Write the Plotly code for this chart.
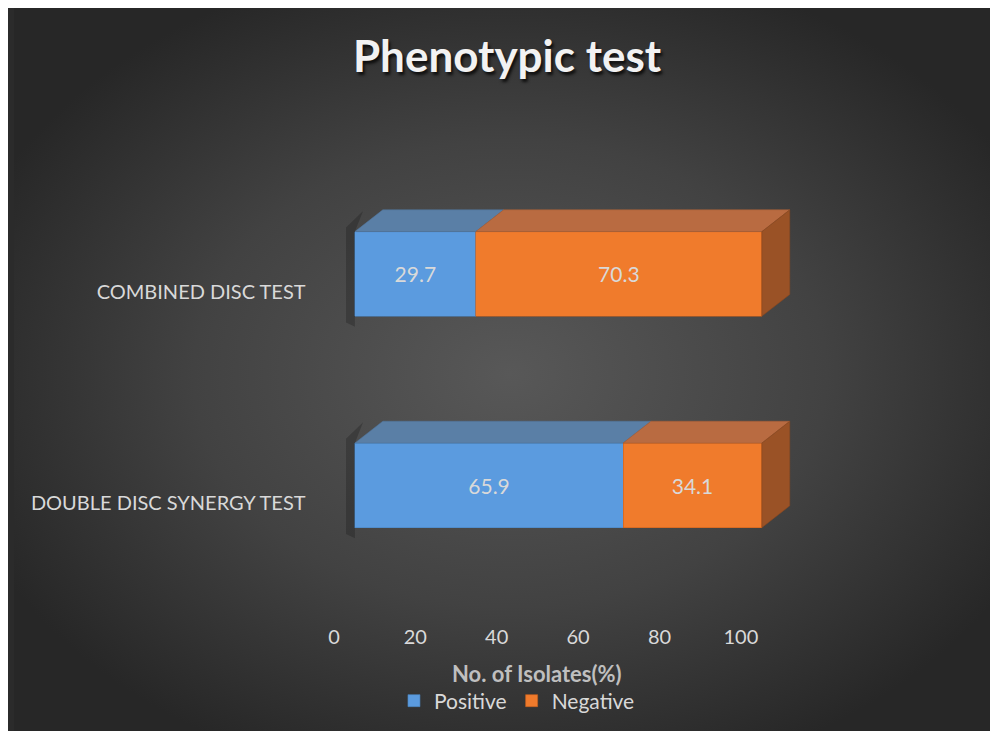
import base64
import plotly.graph_objects as go

# ---------------- data ----------------
categories = ["DOUBLE DISC SYNERGY TEST", "COMBINED DISC TEST"]
positive = [65.9, 29.7]
negative = [34.1, 70.3]
x_ticks = [0, 20, 40, 60, 80, 100]
series_names = ["Positive", "Negative"]

# ---------------- style ----------------
FONT = "Lato"
BLUE_FRONT = "#5b9bdf"
ORANGE_FRONT = "#f07b2c"
BLUE_TOP = "#5a7fa6"
ORANGE_TOP = "#b96b41"
ORANGE_SIDE = "#9a5226"
TEXT = "#d9d9d9"

BAR_W = 0.4          # bar thickness in category units
DEPTH_X = 6.85       # 3-D depth offset along x (data units)
DEPTH_Y = 0.103      # 3-D depth offset along y (category units)

ypos = list(range(len(categories)))

fig = go.Figure()

# front faces (real bars)
fig.add_trace(go.Bar(
    y=ypos, x=positive, orientation="h", name=series_names[0], width=BAR_W,
    marker=dict(color=BLUE_FRONT, line=dict(width=0.6, color="#4a84c0")),
    text=[f"{v:.1f}" for v in positive], textposition="inside",
    insidetextanchor="middle", textfont=dict(family=FONT, size=21, color=TEXT),
    hoverinfo="skip", xaxis="x2", yaxis="y2",
))
fig.add_trace(go.Bar(
    y=ypos, x=negative, orientation="h", name=series_names[1], width=BAR_W,
    marker=dict(color=ORANGE_FRONT, line=dict(width=0.6, color="#c9611c")),
    text=[f"{v:.1f}" for v in negative], textposition="inside",
    insidetextanchor="middle", textfont=dict(family=FONT, size=21, color=TEXT),
    hoverinfo="skip", xaxis="x2", yaxis="y2",
))

# 3-D faces computed from the data
def poly_trace(xs, ys, color, line_color):
    return go.Scatter(x=xs, y=ys, mode="lines", fill="toself", fillcolor=color,
                      line=dict(color=line_color, width=0.6), hoverinfo="skip",
                      showlegend=False, xaxis="x2", yaxis="y2")

sh_x, sh_y = [], []
tb_x, tb_y = [], []
to_x, to_y = [], []
sd_x, sd_y = [], []
for i, y in enumerate(ypos):
    yt = y + BAR_W / 2
    yb = y - BAR_W / 2
    p = positive[i]
    total = positive[i] + negative[i]
    # soft shadow at the left end
    sh_x += [0, -2.2, -2.2, 2.0, 0, None]
    sh_y += [yb - 0.05, yb - 0.03, yt + 0.02, yt + DEPTH_Y * 0.95, yt, None]
    # top faces
    tb_x += [0, p, p + DEPTH_X, DEPTH_X, 0, None]
    tb_y += [yt, yt, yt + DEPTH_Y, yt + DEPTH_Y, yt, None]
    to_x += [p, total, total + DEPTH_X, p + DEPTH_X, p, None]
    to_y += [yt, yt, yt + DEPTH_Y, yt + DEPTH_Y, yt, None]
    # right side face
    sd_x += [total, total + DEPTH_X, total + DEPTH_X, total, total, None]
    sd_y += [yt, yt + DEPTH_Y, yb + DEPTH_Y, yb, yt, None]

fig.add_trace(go.Scatter(x=sh_x, y=sh_y, mode="lines", fill="toself",
                         fillcolor="rgba(0,0,0,0.2)", line=dict(width=0),
                         hoverinfo="skip", showlegend=False, xaxis="x2", yaxis="y2"))
fig.add_trace(poly_trace(tb_x, tb_y, BLUE_TOP, "#50739a"))
fig.add_trace(poly_trace(to_x, to_y, ORANGE_TOP, "#a75f38"))
fig.add_trace(poly_trace(sd_x, sd_y, ORANGE_SIDE, "#8a4820"))

# ---------------- background (radial gradient) ----------------
W, H = 998, 731
svg = f"""<svg xmlns='http://www.w3.org/2000/svg' width='{W}' height='{H}' viewBox='0 0 {W} {H}'>
<defs><radialGradient id='g' cx='50%' cy='50%' r='58%'>
<stop offset='0' stop-color='#585858'/><stop offset='0.55' stop-color='#424242'/>
<stop offset='1' stop-color='#272727'/></radialGradient></defs>
<rect width='{W}' height='{H}' fill='url(#g)'/></svg>"""
bg = "data:image/svg+xml;base64," + base64.b64encode(svg.encode()).decode()

# ---------------- layout (figure pixel coordinates) ----------------
x_lo, x_hi = -5, 115
px0, px100 = 343.0, 752.4
ppu = (px100 - px0) / 100
dom_x = [(px0 + x_lo * ppu) / W, (px0 + x_hi * ppu) / W]

y_lo, y_hi = -0.6, 1.6
py0, py1 = 477.3, 265.9
ppy = py0 - py1
bottom_px = py0 - y_lo * ppy
top_px = py1 - (y_hi - 1) * ppy
dom_y = [(H - bottom_px) / H, (H - top_px) / H]

fig.update_layout(
    width=W, height=H,
    margin=dict(l=0, r=0, t=0, b=0, pad=0),
    paper_bgcolor="#2b2b2b", plot_bgcolor="rgba(0,0,0,0)",
    barmode="stack", bargap=0.6,
    images=[dict(source=bg, xref="paper", yref="paper", x=0, y=1, sizex=1, sizey=1,
                 xanchor="left", yanchor="top", sizing="stretch", layer="below")],
    title=dict(text="<b>Phenotypic test</b>", x=0.5, xanchor="center",
               y=1 - 49 / H, yref="container", yanchor="middle",
               font=dict(family=FONT, size=44, color="#f2f2f2",
                         shadow="2px 3px 3px rgba(0,0,0,0.75)")),
    xaxis=dict(visible=False),
    yaxis=dict(visible=False),
    xaxis2=dict(domain=dom_x, range=[x_lo, x_hi], anchor="y2",
                tickvals=x_ticks, ticktext=[str(t) for t in x_ticks],
                ticklabelshift=-21, ticklabelstandoff=11,
                showgrid=False, zeroline=False, showline=False, ticks="",
                tickfont=dict(family=FONT, size=20, color=TEXT)),
    yaxis2=dict(domain=dom_y, range=[y_lo, y_hi], anchor="x2",
                tickvals=ypos, ticktext=categories,
                ticklabelshift=18, ticklabelstandoff=28,
                showgrid=False, zeroline=False, showline=False, ticks="",
                tickfont=dict(family=FONT, size=20, color=TEXT)),
    annotations=[dict(text="<b>No. of Isolates(%)</b>", xref="paper", yref="paper",
                      x=526 / W, y=1 - 665 / H, xanchor="center", yanchor="middle",
                      showarrow=False,
                      font=dict(family=FONT, size=22, color="#bfbfbf"))],
    legend=dict(orientation="h", x=506 / W, xanchor="center", y=1 - 693 / H,
                yanchor="middle", font=dict(family=FONT, size=21, color=TEXT),
                bgcolor="rgba(0,0,0,0)", itemclick=False, itemdoubleclick=False,
                traceorder="normal"),
    showlegend=True,
)

fig.write_html("out.html")
